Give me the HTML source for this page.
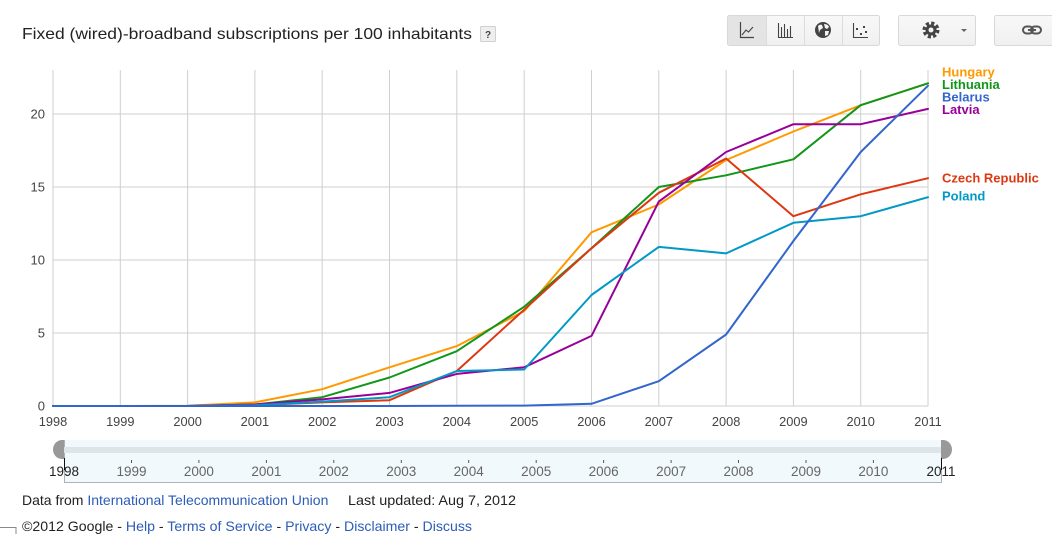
<!DOCTYPE html>
<html><head><meta charset="utf-8"><style>
html,body{margin:0;padding:0;background:#fff;}
svg{display:block;font-family:"Liberation Sans",Arial,sans-serif;}
</style></head><body>
<svg width="1052" height="534" viewBox="0 0 1052 534" xmlns="http://www.w3.org/2000/svg">
<rect width="1052" height="534" fill="#fff"/>
<!-- title -->
<text x="22" y="39" font-size="16" fill="#222" textLength="450" lengthAdjust="spacingAndGlyphs">Fixed (wired)-broadband subscriptions per 100 inhabitants</text>
<rect x="480.5" y="26.5" width="15" height="15" fill="#eee" stroke="#d0d0d0" rx="1"/>
<text x="488" y="38" font-size="10" font-weight="bold" fill="#444" text-anchor="middle">?</text>

<!-- toolbar -->
<defs><linearGradient id="bg" x1="0" y1="0" x2="0" y2="1"><stop offset="0" stop-color="#f8f8f8"/><stop offset="1" stop-color="#f0f0f0"/></linearGradient></defs>
<rect x="727.5" y="15.5" width="152" height="30" fill="url(#bg)" stroke="#d8d8d8" rx="2"/>
<rect x="728" y="16" width="38" height="29" fill="#e4e4e4"/>
<line x1="766.5" y1="16" x2="766.5" y2="45" stroke="#dcdcdc"/>
<line x1="804.5" y1="16" x2="804.5" y2="45" stroke="#dcdcdc"/>
<line x1="842.5" y1="16" x2="842.5" y2="45" stroke="#dcdcdc"/>
<path d="M740.5 22 V37.5 H754" fill="none" stroke="#444" stroke-width="1.2"/>
<path d="M742 35 L746 30 L748.5 32 L753 27" fill="none" stroke="#444" stroke-width="1.1"/>
<path d="M778.5 23 V37.5 H793 M781.5 27 V37 M784.5 24 V37 M787.5 29 V37 M790.5 26 V37" fill="none" stroke="#444" stroke-width="1.1"/>
<circle cx="823" cy="30" r="8" fill="#444"/>
<path d="M818 26 Q820 24 822 25 L823 28 L820 30 L819 33 Z M824 24 Q828 24 829 27 L827 29 L825 28 Z M825 31 L829 31 L828 35 L825 36 Z" fill="#f4f4f4"/>
<path d="M853.5 23 V37.5 H868" fill="none" stroke="#444" stroke-width="1.1"/>
<rect x="856" y="28" width="2" height="2" fill="#444"/>
<rect x="860" y="33" width="2" height="2" fill="#444"/>
<rect x="863" y="26" width="2" height="2" fill="#444"/>
<rect x="865" y="31" width="2" height="2" fill="#444"/>
<rect x="898.5" y="15.5" width="77" height="30" fill="url(#bg)" stroke="#d8d8d8" rx="2"/>
<circle cx="931" cy="30" r="6.5" fill="none" stroke="#444" stroke-width="4" stroke-dasharray="3 2.1"/>
<circle cx="931" cy="30" r="5.5" fill="#444"/>
<circle cx="931" cy="30" r="2.5" fill="#f4f4f4"/>
<path d="M961 29 H967 L964 32 Z" fill="#666"/>
<rect x="994.5" y="15.5" width="62" height="30" fill="url(#bg)" stroke="#d8d8d8" rx="2"/>
<rect x="1023" y="26.5" width="10" height="7" rx="3.5" fill="none" stroke="#555" stroke-width="2"/>
<rect x="1031" y="26.5" width="10" height="7" rx="3.5" fill="none" stroke="#555" stroke-width="2"/>
<line x1="1028" y1="30" x2="1036" y2="30" stroke="#555" stroke-width="2"/>

<!-- grid -->
<g stroke="#cfcfcf" stroke-width="1">
<line x1="53" y1="70" x2="53" y2="406"/>
<line x1="120.3" y1="70" x2="120.3" y2="406"/>
<line x1="187.6" y1="70" x2="187.6" y2="406"/>
<line x1="254.9" y1="70" x2="254.9" y2="406"/>
<line x1="322.2" y1="70" x2="322.2" y2="406"/>
<line x1="389.5" y1="70" x2="389.5" y2="406"/>
<line x1="456.8" y1="70" x2="456.8" y2="406"/>
<line x1="524.2" y1="70" x2="524.2" y2="406"/>
<line x1="591.5" y1="70" x2="591.5" y2="406"/>
<line x1="658.8" y1="70" x2="658.8" y2="406"/>
<line x1="726.1" y1="70" x2="726.1" y2="406"/>
<line x1="793.4" y1="70" x2="793.4" y2="406"/>
<line x1="860.7" y1="70" x2="860.7" y2="406"/>
<line x1="928" y1="70" x2="928" y2="406"/>
<line x1="53" y1="114" x2="928" y2="114"/>
<line x1="53" y1="187" x2="928" y2="187"/>
<line x1="53" y1="260" x2="928" y2="260"/>
<line x1="53" y1="333" x2="928" y2="333"/>
<line x1="53" y1="406" x2="928" y2="406"/>
</g>
<g font-size="13" fill="#444" text-anchor="end">
<text x="45" y="118.5">20</text>
<text x="45" y="191.5">15</text>
<text x="45" y="264.5">10</text>
<text x="45" y="337.5">5</text>
<text x="45" y="410.5">0</text>
</g>
<g font-size="12.8" fill="#444" text-anchor="middle">
<text x="53" y="426">1998</text>
<text x="120.3" y="426">1999</text>
<text x="187.6" y="426">2000</text>
<text x="254.9" y="426">2001</text>
<text x="322.2" y="426">2002</text>
<text x="389.5" y="426">2003</text>
<text x="456.8" y="426">2004</text>
<text x="524.2" y="426">2005</text>
<text x="591.5" y="426">2006</text>
<text x="658.8" y="426">2007</text>
<text x="726.1" y="426">2008</text>
<text x="793.4" y="426">2009</text>
<text x="860.7" y="426">2010</text>
<text x="928" y="426">2011</text>
</g>

<g fill="none" stroke-width="2" stroke-linejoin="round" stroke-linecap="round">
<polyline stroke="#ff9900" points="53,406 120.3,406 187.6,405.7 254.9,402.4 322.2,389.2 389.5,367.3 456.8,346.1 524.2,311.1 591.5,232.3 658.8,204.5 726.1,160 793.4,131.5 860.7,105.2 928,83.3"/>
<polyline stroke="#109618" points="53,406 120.3,406 187.6,406 254.9,404.5 322.2,397.2 389.5,377.5 456.8,351.2 524.2,306.7 591.5,248.3 658.8,187 726.1,175.3 793.4,159.3 860.7,105.2 928,83.3"/>
<polyline stroke="#dc3912" points="53,406 120.3,406 187.6,406 254.9,405.3 322.2,402.4 389.5,400.2 456.8,371 524.2,309.6 591.5,248.3 658.8,192.8 726.1,158.5 793.4,216.2 860.7,194.3 928,178.2"/>
<polyline stroke="#990099" points="53,406 120.3,406 187.6,406 254.9,404.5 322.2,399.4 389.5,392.9 456.8,373.9 524.2,367.3 591.5,335.9 658.8,201.6 726.1,152 793.4,124.2 860.7,124.2 928,108.9"/>
<polyline stroke="#0099c6" points="53,406 120.3,406 187.6,406 254.9,405.3 322.2,401.6 389.5,397.2 456.8,371 524.2,369.5 591.5,295 658.8,246.9 726.1,253.4 793.4,222.8 860.7,216.2 928,197.2"/>
<polyline stroke="#3366cc" points="53,406 120.3,406 187.6,406 254.9,406 322.2,406 389.5,406 456.8,405.7 524.2,405.6 591.5,403.8 658.8,381.2 726.1,334.5 793.4,241 860.7,152 928,85.7"/>
</g>
<g font-size="13" font-weight="bold">
<text x="942" y="76.5" fill="#ff9900">Hungary</text>
<text x="942" y="89" fill="#109618">Lithuania</text>
<text x="942" y="101.5" fill="#3366cc">Belarus</text>
<text x="942" y="114" fill="#990099">Latvia</text>
<text x="942" y="182.5" fill="#dc3912">Czech Republic</text>
<text x="942" y="200.5" fill="#0099c6">Poland</text>
</g>

<!-- slider -->
<rect x="64" y="440" width="877" height="42" fill="#f2f9fc"/>
<path d="M64.5 440 V482.5 H941.5 V440" fill="none" stroke="#a9b3b8" stroke-width="1"/>
<rect x="64" y="447" width="877" height="6" fill="#dde5e9"/>
<path d="M64 440 H62 A9 9.5 0 0 0 62 459 H64 Z" fill="#999"/>
<path d="M941 440 H943 A9 9.5 0 0 1 943 459 H941 Z" fill="#999"/>
<g stroke="#555" stroke-width="1">
<line x1="131.5" y1="460" x2="131.5" y2="463"/>
<line x1="198.9" y1="460" x2="198.9" y2="463"/>
<line x1="266.4" y1="460" x2="266.4" y2="463"/>
<line x1="333.8" y1="460" x2="333.8" y2="463"/>
<line x1="401.3" y1="460" x2="401.3" y2="463"/>
<line x1="468.7" y1="460" x2="468.7" y2="463"/>
<line x1="536.2" y1="460" x2="536.2" y2="463"/>
<line x1="603.6" y1="460" x2="603.6" y2="463"/>
<line x1="671.1" y1="460" x2="671.1" y2="463"/>
<line x1="738.5" y1="460" x2="738.5" y2="463"/>
<line x1="806" y1="460" x2="806" y2="463"/>
<line x1="873.4" y1="460" x2="873.4" y2="463"/>
</g>
<g font-size="13.5" fill="#666" text-anchor="middle">
<text x="131.5" y="476">1999</text>
<text x="198.9" y="476">2000</text>
<text x="266.4" y="476">2001</text>
<text x="333.8" y="476">2002</text>
<text x="401.3" y="476">2003</text>
<text x="468.7" y="476">2004</text>
<text x="536.2" y="476">2005</text>
<text x="603.6" y="476">2006</text>
<text x="671.1" y="476">2007</text>
<text x="738.5" y="476">2008</text>
<text x="806" y="476">2009</text>
<text x="873.4" y="476">2010</text>
</g>
<g font-size="13.5" fill="#222" text-anchor="middle">
<text x="64" y="476">1998</text>
<text x="941" y="476">2011</text>
</g>
<line x1="64.5" y1="458" x2="64.5" y2="470" stroke="#111" stroke-width="1"/>
<line x1="941.5" y1="458" x2="941.5" y2="470" stroke="#111" stroke-width="1"/>

<!-- footer -->
<text x="22" y="505" font-size="14" fill="#222">Data from <tspan fill="#2b5cb8">International Telecommunication Union</tspan></text>
<text x="348" y="505" font-size="14" fill="#222" textLength="168" lengthAdjust="spacingAndGlyphs">Last updated: Aug 7, 2012</text>
<text x="22" y="531" font-size="14" fill="#222" xml:space="preserve" textLength="450" lengthAdjust="spacingAndGlyphs">©2012 Google - <tspan fill="#2b5cb8">Help</tspan> - <tspan fill="#2b5cb8">Terms of Service</tspan> - <tspan fill="#2b5cb8">Privacy</tspan> - <tspan fill="#2b5cb8">Disclaimer</tspan> - <tspan fill="#2b5cb8">Discuss</tspan></text>
<rect x="-1" y="527.5" width="17" height="10" fill="#fff" stroke="#888" stroke-width="1"/>
</svg>
</body></html>
